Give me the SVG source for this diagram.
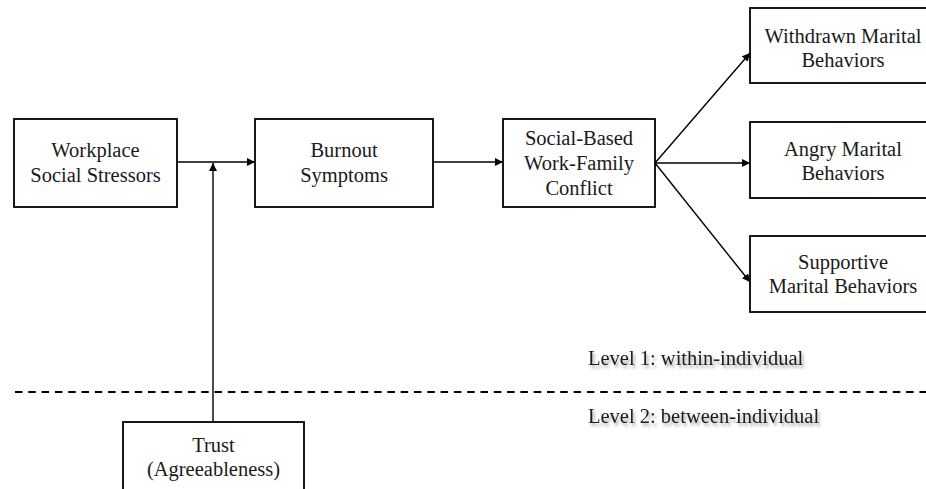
<svg xmlns="http://www.w3.org/2000/svg" width="926" height="489" viewBox="0 0 926 489">
<style>
.box{fill:#fff;stroke:#000;stroke-width:1.8}
.lbl{font-family:"Liberation Serif","Times New Roman",serif;font-size:20.5px;fill:#1a1a1a;text-anchor:middle}
.lvl{font-family:"Liberation Serif","Times New Roman",serif;font-size:20.5px;fill:#1a1a1a}
.edge{stroke:#000;stroke-width:1.4;fill:none;marker-end:url(#ah)}
</style>
<defs>
<marker id="ah" viewBox="0 0 10 10" refX="10" refY="5" markerWidth="8" markerHeight="8" markerUnits="userSpaceOnUse" orient="auto">
<path d="M0,0 L10,5 L0,10 z" fill="#000"/>
</marker>
<filter id="sh" x="-10%" y="-50%" width="120%" height="200%">
<feDropShadow dx="2" dy="3" stdDeviation="1.5" flood-color="#000" flood-opacity="0.35"/>
</filter>
</defs>
<rect width="926" height="489" fill="#fff"/>
<g id="connectors">
<line class="edge" x1="177" y1="162" x2="255" y2="162"/>
<line class="edge" x1="433" y1="162" x2="503" y2="162"/>
<line class="edge" x1="213" y1="422" x2="213" y2="163"/>
<line class="edge" x1="655" y1="163" x2="750" y2="53"/>
<line class="edge" x1="655" y1="163" x2="750" y2="163"/>
<line class="edge" x1="655" y1="163" x2="750" y2="282"/>
<line x1="15" y1="392" x2="926" y2="392" stroke="#000" stroke-width="2" stroke-dasharray="7.5 5.8"/>
</g>
<g id="workplace">
<rect class="box" x="14" y="119" width="163" height="88"/>
<text class="lbl" x="95.5" y="157">Workplace</text>
<text class="lbl" x="95.5" y="182">Social Stressors</text>
</g>
<g id="burnout">
<rect class="box" x="255" y="119" width="178" height="88"/>
<text class="lbl" x="344" y="157">Burnout</text>
<text class="lbl" x="344" y="182">Symptoms</text>
</g>
<g id="conflict">
<rect class="box" x="503" y="119" width="152" height="88"/>
<text class="lbl" x="579" y="145">Social-Based</text>
<text class="lbl" x="579" y="170">Work-Family</text>
<text class="lbl" x="579" y="195">Conflict</text>
</g>
<g id="withdrawn">
<rect class="box" x="750" y="8" width="188" height="75"/>
<text class="lbl" x="843" y="43">Withdrawn Marital</text>
<text class="lbl" x="843" y="67">Behaviors</text>
</g>
<g id="angry">
<rect class="box" x="750" y="122" width="188" height="76"/>
<text class="lbl" x="843" y="156">Angry Marital</text>
<text class="lbl" x="843" y="180">Behaviors</text>
</g>
<g id="supportive">
<rect class="box" x="750" y="236" width="188" height="76"/>
<text class="lbl" x="843" y="269">Supportive</text>
<text class="lbl" x="843" y="293">Marital Behaviors</text>
</g>
<g id="trust">
<rect class="box" x="123" y="422" width="181" height="80"/>
<text class="lbl" x="213.5" y="452">Trust</text>
<text class="lbl" x="213.5" y="476">(Agreeableness)</text>
</g>
<g id="levels" filter="url(#sh)">
<text class="lvl" x="588" y="365">Level 1: within-individual</text>
<text class="lvl" x="588" y="423">Level 2: between-individual</text>
</g>
</svg>
